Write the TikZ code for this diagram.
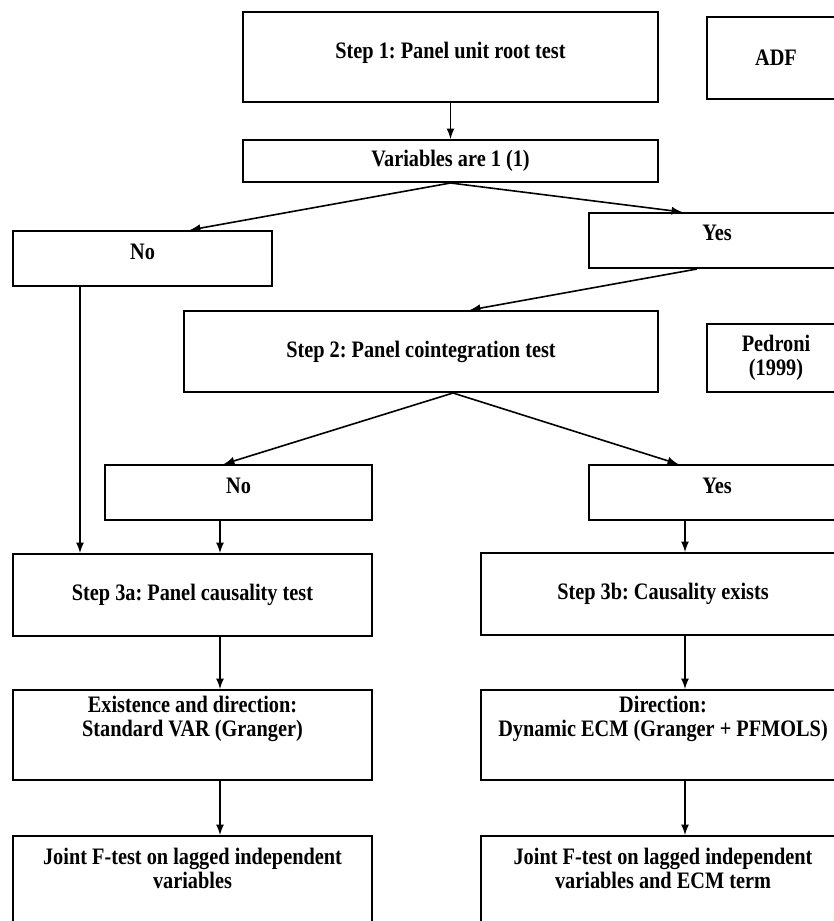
\documentclass[tikz,border=0pt]{standalone}
\usepackage{fontspec}
\setmainfont{Liberation Serif}[FakeStretch=0.86]
\usetikzlibrary{shapes,arrows,positioning,calc}
\newcommand{\lift}[1]{\rule[-#1]{0pt}{#1}}
\frenchspacing

\begin{document}
\begin{tikzpicture}[x=0.5pt,y=-0.5pt,>=latex,
    box/.style={draw,line width=1pt,rectangle,align=center,inner sep=2pt,
      font=\fontsize{11.8}{12}\selectfont\bfseries},
    wide/.style={box,minimum width=179.5pt},
    side/.style={box,minimum width=182pt},
    arr/.style={line width=0.8pt,->}]
    \clip (0,0) rectangle (834,921);
    % step 1
    \node[box,minimum width=207.5pt,minimum height=45pt] (step1) at (450.5,57) {Step 1: Panel unit root test\lift{6.5pt}};
    \node[box,minimum width=69pt,minimum height=41pt] (adf) at (776,58) {ADF};
    \node[box,minimum width=207.5pt,minimum height=21pt] (var) at (450.5,161) {Variables are 1 (1)};
    \node[box,minimum width=129.5pt,minimum height=27.5pt] (no1) at (142.5,258.5) {No\lift{7pt}};
    \node[box,minimum width=128pt,minimum height=27.5pt] (yes1) at (717,240.5) {Yes\lift{8pt}};
    % step 2
    \node[box,minimum width=237pt,minimum height=40.5pt] (step2) at (421,351.5) {Step 2: Panel cointegration test};
    \node[box,minimum width=69pt,minimum height=34pt] (ped) at (776,358) {Pedroni\\(1999)};
    \node[box,minimum width=133.5pt,minimum height=27.5pt] (no2) at (238.5,492.5) {No\lift{7pt}};
    \node[box,minimum width=128pt,minimum height=27.5pt] (yes2) at (717,492.5) {Yes\lift{7pt}};
    % step 3
    \node[wide,minimum height=41pt] (step3a) at (192.5,595) {Step 3a: Panel causality test};
    \node[side,minimum height=41pt] (step3b) at (663,594) {Step 3b: Causality exists};
    \node[wide,minimum height=45pt] (exist) at (192.5,735) {Existence and direction:\\Standard VAR (Granger)\lift{18.5pt}};
    \node[side,minimum height=45pt] (dir) at (663,735) {Direction:\\Dynamic ECM (Granger + PFMOLS)\lift{18.5pt}};
    \node[wide,minimum height=52pt] (joint1) at (192.5,888) {Joint F-test on lagged independent\\variables\lift{20pt}};
    \node[side,minimum height=52pt] (joint2) at (663,888) {Joint F-test on lagged independent\\variables and ECM term\lift{20pt}};
    % connectors
    \draw[arr] (step1) -- (var);
    \draw[arr] (var.south) -- ([xshift=23.75pt]no1.north);
    \draw[arr] (var.south) -- ([xshift=-17.5pt]yes1.north);
    \draw[arr] ([xshift=-10pt]yes1.south) -- ([xshift=24.5pt]step2.north);
    \draw[arr] ([xshift=16pt]step2.south) -- ([xshift=-7.25pt]no2.north);
    \draw[arr] ([xshift=16pt]step2.south) -- ([xshift=-19.5pt]yes2.north);
    \draw[arr] ([xshift=-31.25pt]no1.south) coordinate (a) -- (a |- step3a.north);
    \draw[arr] ([xshift=-9.25pt]no2.south) coordinate (b) -- (b |- step3a.north);
    \draw[arr] ([xshift=-16pt]yes2.south) coordinate (c) -- (c |- step3b.north);
    \draw[arr] ([xshift=13.75pt]step3a.south) coordinate (d) -- (d |- exist.north);
    \draw[arr] (d |- exist.south) -- (d |- joint1.north);
    \draw[arr] ([xshift=11pt]step3b.south) coordinate (e) -- (e |- dir.north);
    \draw[arr] (e |- dir.south) -- (e |- joint2.north);
  \end{tikzpicture}
\end{document}
